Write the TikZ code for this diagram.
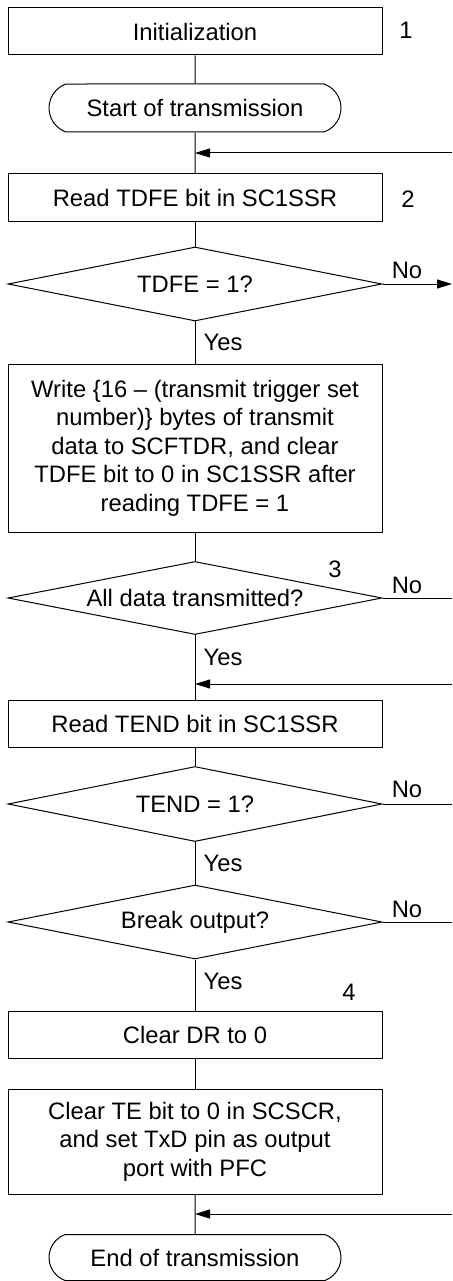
\documentclass[tikz,border=0pt]{standalone}
\usepackage{fontspec}
\setmainfont{Liberation Sans}
\usetikzlibrary{shapes.geometric,shapes.misc,arrows.meta}

\begin{document}
\begin{tikzpicture}[x=1pt, y=-1pt, line width=1pt,
        every node/.style={font=\fontsize{23.8}{28.5}\selectfont},
        procbox/.style={draw, rectangle, minimum width=374pt, inner sep=0pt, align=center},
        termbox/.style={draw, rounded rectangle, rounded rectangle arc length=140, minimum width=292pt, minimum height=48pt, inner sep=0pt},
        decision/.style={draw, diamond, aspect=5, minimum width=374pt, inner sep=0pt},
        flow/.style={-{Triangle[length=15pt, width=9pt]}}]
    \useasboundingbox (0,0) rectangle (452,1281);

    \node[procbox, minimum height=47pt] (init) at (195,31.5) {Initialization};
    \node (n1) at (406,30) {1};
    \node[termbox] (starttx) at (195,108) {Start of transmission};
    \node[procbox, minimum height=48pt] (rdtdfe) at (195,198) {Read TDFE bit in SC1SSR};
    \node (n2) at (408,199.5) {2};
    \node[decision, minimum height=74pt] (tdfe) at (195,284) {TDFE = 1?};
    \node[procbox, minimum height=168pt] (write) at (195,448)
        {Write \{16 \textendash{} (transmit trigger set\\number)\} bytes of transmit\\data to SCFTDR, and clear\\TDFE bit to 0 in SC1SSR after\\reading TDFE = 1};
    \node[decision, minimum height=73pt] (alldata) at (195,598) {All data transmitted?};
    \node (n3) at (335,569.5) {3};
    \node[procbox, minimum height=47pt] (rdtend) at (195,723.5) {Read TEND bit in SC1SSR};
    \node[decision, minimum height=75pt] (tend) at (195,804) {TEND = 1?};
    \node[decision, minimum height=74pt] (brk) at (195,922) {Break output?};
    \node (n4) at (349,992) {4};
    \node[procbox, minimum height=47pt] (clrdr) at (195,1034.5) {Clear DR to 0};
    \node[procbox, minimum height=105pt] (clrte) at (195,1141.5)
        {Clear TE bit to 0 in SCSCR,\\and set TxD pin as output\\port with PFC};
    \node[termbox, minimum height=46pt] (endtx) at (195,1257.5) {End of transmission};

    \node (yes1) at (223,342) {Yes};
    \node (yes2) at (223,657) {Yes};
    \node (yes3) at (223,863) {Yes};
    \node (yes4) at (223,981) {Yes};
    \node (no1) at (407,270) {No};
    \node (no2) at (407,585) {No};
    \node (no3) at (407,789.5) {No};
    \node (no4) at (407,909.5) {No};

    \coordinate (r1) at (452,153);  \coordinate (j1) at (195,153);
    \coordinate (r2) at (452,284);
    \coordinate (r3) at (452,598);
    \coordinate (r4) at (452,684);  \coordinate (j4) at (195,684);
    \coordinate (r5) at (452,804);
    \coordinate (r6) at (452,922);
    \coordinate (r7) at (452,1214); \coordinate (j7) at (195,1214);

    \draw (init) -- (starttx);
    \draw (starttx) -- (rdtdfe);
    \draw (rdtdfe) -- (tdfe);
    \draw (tdfe) -- (write);
    \draw (write) -- (alldata);
    \draw (alldata) -- (rdtend);
    \draw (rdtend) -- (tend);
    \draw (tend) -- (brk);
    \draw (brk) -- (clrdr);
    \draw (clrdr) -- (clrte);
    \draw (clrte) -- (endtx);

    \draw[flow] (r1) -- (j1);
    \draw[flow] (tdfe) -- (r2);
    \draw (alldata) -- (r3);
    \draw[flow] (r4) -- (j4);
    \draw (tend) -- (r5);
    \draw (brk) -- (r6);
    \draw[flow] (r7) -- (j7);
\end{tikzpicture}
\end{document}
